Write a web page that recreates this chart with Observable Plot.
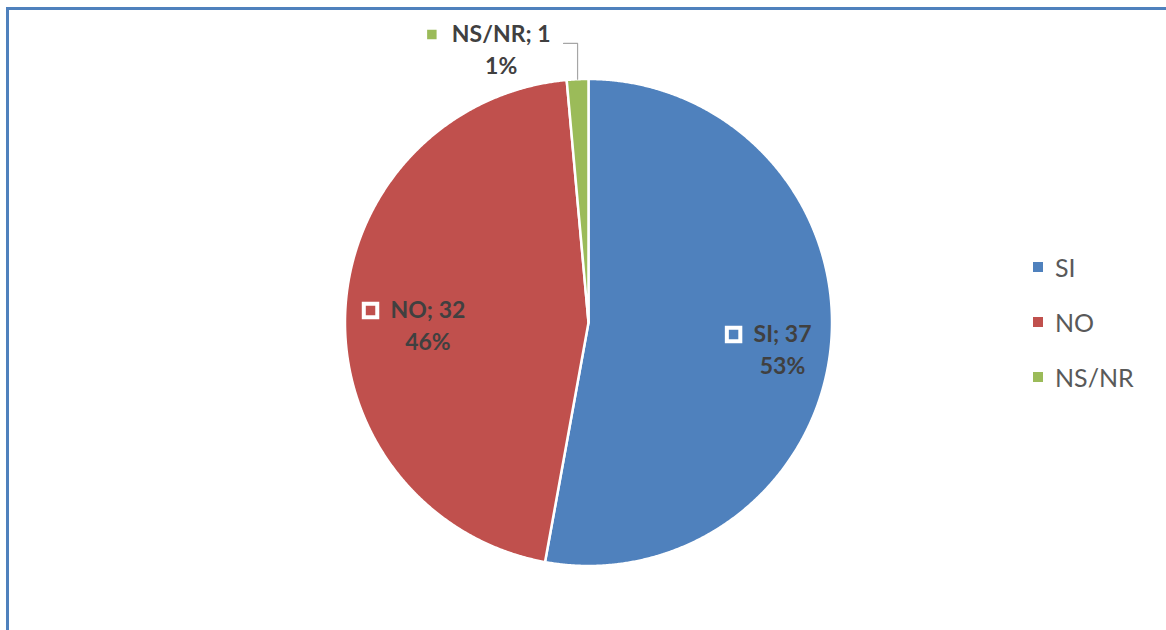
<!DOCTYPE html>
<html>
<head>
<meta charset="utf-8">
<script src="https://cdn.jsdelivr.net/npm/d3@7"></script>
<script src="https://cdn.jsdelivr.net/npm/@observablehq/plot@0.6"></script>
<style>
  html, body { margin: 0; padding: 0; background: #fff; overflow: hidden; }
  #wrap { position: relative; width: 1166px; height: 630px; }
  #frame { position: absolute; left: 6px; top: 7px; right: -10px; bottom: -10px;
           border-top: 3px solid #4F81BD; border-left: 3px solid #4F81BD; pointer-events: none; }
  #legend { position: absolute; left: 1033px; top: 239px; font-family: Lato, sans-serif;
            font-size: 25px; color: #595959; }
  .item { height: 55px; display: flex; align-items: center; }
  .sw { width: 10px; height: 10px; margin-right: 12px; }
</style>
</head>
<body>
<div id="wrap"><div id="chart"></div><div id="frame"></div><div id="legend"></div></div>
<script>
const categories = ["SI", "NO", "NS/NR"];
const values = [37, 32, 1];
const colors = ["#4F81BD", "#C0504D", "#9BBB59"];

const total = d3.sum(values);
const data = categories.map((c, i) => ({ key: c, value: values[i] }));
const arcs = d3.pie().sort(null).value(d => d.value)(data);

// polygon points of each slice in unit-circle data coordinates (y up)
const pts = [];
for (const a of arcs) {
  pts.push({ key: a.data.key, x: 0, y: 0 });
  const n = Math.max(4, Math.ceil((a.endAngle - a.startAngle) / 0.005));
  for (let i = 0; i <= n; i++) {
    const t = a.startAngle + (a.endAngle - a.startAngle) * i / n;
    pts.push({ key: a.data.key, x: Math.sin(t), y: Math.cos(t) });
  }
  pts.push({ key: a.data.key, x: 0, y: 0 });
}

const R = 243.5, cx = 588, cy = 322;
const FONT = "bold 23px Lato";
const ctx = document.createElement("canvas").getContext("2d");
ctx.font = FONT;
const wpx = s => ctx.measureText(s).width;

const inside = [], outside = [], leaders = [];
for (const a of arcs) {
  const mid = (a.startAngle + a.endAngle) / 2;
  const pct = Math.round(a.data.value / total * 100) + "%";
  const line1 = a.data.key + "; " + a.data.value;
  const w = wpx(line1);
  if (a.endAngle - a.startAngle > 0.3) {
    const r = 0.73;
    const x = r * Math.sin(mid), y = r * Math.cos(mid);
    inside.push({ key: a.data.key, x, y, line1, pct, mx: x - (w / 2 + 20) / R });
  } else {
    const ox = Math.sin(mid), oy = Math.cos(mid);
    const ey = 1.146, ex = ox, hx = ox - 14 / R;
    leaders.push({ key: a.data.key, x: ox, y: oy }, { key: a.data.key, x: ex, y: ey }, { key: a.data.key, x: hx, y: ey });
    const tx = hx - (13 + w / 2) / R;
    outside.push({ key: a.data.key, x: tx, y: ey, line1, pct, mx: tx - (w / 2 + 20) / R });
  }
}

const textStyle = { fontFamily: "Lato", fontSize: 23, fontWeight: "bold", fill: "#404040" };

const chart = Plot.plot({
  width: 1166, height: 630,
  margin: 0,
  x: { domain: [-1, 1], range: [cx - R, cx + R], axis: null },
  y: { domain: [-1, 1], range: [cy + R, cy - R], axis: null },
  color: { domain: categories, range: colors },
  marks: [
    Plot.line(pts, { x: "x", y: "y", z: "key", fill: "key", stroke: "white", strokeWidth: 2.5, strokeLinejoin: "round" }),
    Plot.line(leaders, { x: "x", y: "y", z: "key", stroke: "#a6a6a6", strokeWidth: 1.2 }),
    // inside labels
    Plot.dot(inside, { x: "mx", y: "y", dx: 17, dy: -4, symbol: "square", r: 7.6, fill: "key", stroke: "white", strokeWidth: 4 }),
    Plot.text(inside, { x: "x", y: "y", text: "line1", dx: 17, dy: -4, ...textStyle }),
    Plot.text(inside, { x: "x", y: "y", text: "pct", dx: 17, dy: 28, ...textStyle }),
    // outside labels
    Plot.dot(outside, { x: "mx", y: "y", dy: -9, symbol: "square", r: 7.6, fill: "key", stroke: "white", strokeWidth: 4 }),
    Plot.text(outside, { x: "x", y: "y", text: "line1", dy: -9, ...textStyle }),
    Plot.text(outside, { x: "x", y: "y", text: "pct", dy: 23, ...textStyle })
  ]
});
document.getElementById("chart").appendChild(chart);

const legend = document.getElementById("legend");
categories.forEach((c, i) => {
  const it = document.createElement("div");
  it.className = "item";
  it.innerHTML = `<div class="sw" style="background:${colors[i]}"></div><span>${c}</span>`;
  legend.appendChild(it);
});
</script>
</body>
</html>
